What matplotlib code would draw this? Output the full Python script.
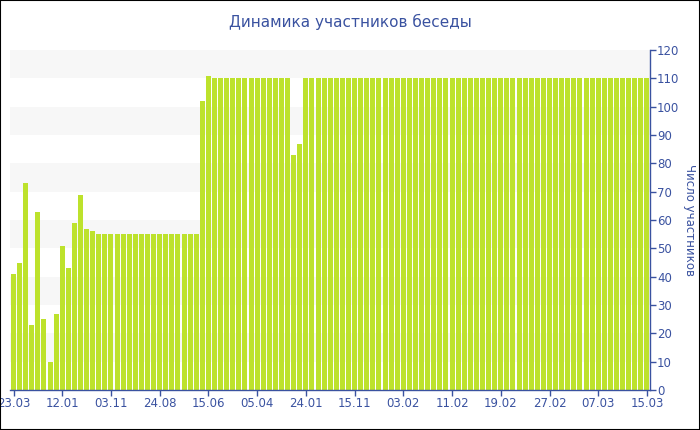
import matplotlib
matplotlib.use("Agg")
import matplotlib.pyplot as plt
from matplotlib.patches import Rectangle

title = "Динамика участников беседы"
ylabel = "Число участников"
tick_labels = ["23.03", "12.01", "03.11", "24.08", "15.06", "05.04", "24.01",
               "15.11", "03.02", "11.02", "19.02", "27.02", "07.03", "15.03"]
tick_step = 8

values_start = [41, 45, 73, 23, 63, 25, 10, 27, 51, 43, 59, 69, 57, 56]
values_flat55 = [55] * 17
values_jump = [102, 111]
values_mid = [110] * 13
values_dip = [83, 87]
values_end = [110] * 57
values = values_start + values_flat55 + values_jump + values_mid + values_dip + values_end

axis_color = "#3a52a0"
bar_color = "#bde22c"

fig = plt.figure(figsize=(7, 4.3), dpi=100)
fig.patches.append(Rectangle((0, 0), 1, 1, transform=fig.transFigure,
                             fill=False, edgecolor="black", linewidth=1.5))
ax = fig.add_axes([10 / 700, 40 / 430, 640 / 700, 340 / 430])

# background bands
for lo in range(10, 120, 20):
    ax.axhspan(lo, lo + 10, color="#f7f7f7", zorder=0, lw=0)

x = list(range(len(values)))
ax.bar(x, values, width=0.82, color=bar_color, zorder=2)

ax.set_xlim(-0.58, 104.5)
ax.set_ylim(0, 120)

ax.yaxis.tick_right()
ax.yaxis.set_label_position("right")
ax.set_yticks(range(0, 121, 10))
ax.set_xticks(x[::tick_step])
ax.set_xticklabels(tick_labels)

for s in ["top", "left"]:
    ax.spines[s].set_visible(False)
for s in ["bottom", "right"]:
    ax.spines[s].set_color(axis_color)
    ax.spines[s].set_linewidth(1)

ax.tick_params(axis="both", colors=axis_color, labelcolor=axis_color,
               labelsize=8.5, length=4, width=1, direction="out", pad=1)
ax.set_ylabel(ylabel, rotation=270, color=axis_color, fontsize=8.5, labelpad=12)
ax.set_facecolor("white")

fig.text(350 / 700, 1 - 22 / 430, title, ha="center", va="center",
         color=axis_color, fontsize=11)

fig.savefig("out.png", dpi=100)
